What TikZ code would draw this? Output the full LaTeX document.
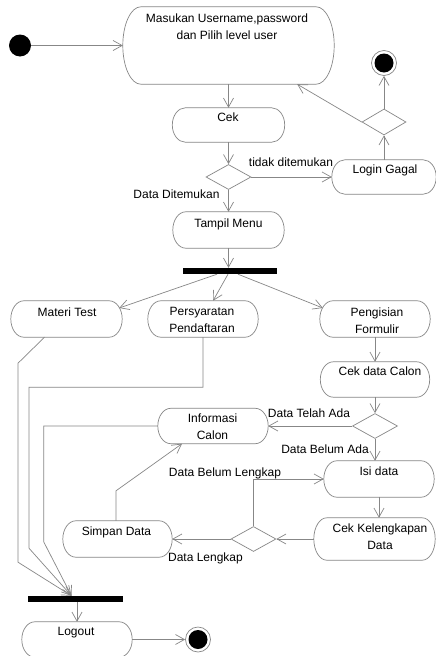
\documentclass[tikz,border=0pt]{standalone}
\usepackage{fontspec}
\setmainfont{Liberation Sans}
\usetikzlibrary{arrows.meta,shapes.geometric,calc}
\definecolor{lc}{RGB}{135,135,135}

\tikzset{
  edge/.style={draw=lc, line width=0.7pt},
  flow/.style={edge, -{Straight Barb[length=9pt,width=10pt]}},
  act/.style={rectangle, inner sep=0pt, draw=none},
  txt/.style={inner sep=0pt, anchor=north, align=center, font=\fontsize{12}{17}\selectfont},
  lbl/.style={inner sep=0pt, anchor=base, font=\fontsize{12}{14}\selectfont},
  decision/.style={diamond, draw=lc, line width=0.7pt, inner sep=0pt,
                   minimum width=45pt, minimum height=25pt},
  bar/.style={rectangle, fill=black, inner sep=0pt, minimum width=95pt, minimum height=6pt},
  startdot/.style={circle, fill=black, inner sep=0pt, minimum size=22pt},
  endring/.style={circle, draw=lc, line width=0.7pt, inner sep=0pt, minimum size=25pt},
  enddot/.style={circle, fill=black, inner sep=0pt, minimum size=19pt},
}

% activity outline: straight top and bottom, elliptic end caps
\newcommand\capsule[2][13]{%
  \draw[edge] let \p1=(#2.north east), \p2=(#2.south west), \n1={(\y1-\y2)/2} in
    ({\x2+#1pt},\y1) -- ({\x1-#1pt},\y1)
    arc[start angle=90, end angle=-90, x radius=#1pt, y radius=\n1]
    -- ({\x2+#1pt},\y2)
    arc[start angle=270, end angle=90, x radius=#1pt, y radius=\n1] -- cycle;}

\begin{document}
\begin{tikzpicture}[x=1pt, y=-1pt]
\fill[white] (0,0) rectangle (436,656);
\useasboundingbox (0,0) rectangle (436,656);

% activities
\node[act, minimum width=211pt, minimum height=77pt] (main)   at (228.5,45.5) {};
\node[act, minimum width=112pt, minimum height=34pt] (cek)    at (228.5,125) {};
\node[act, minimum width=104pt, minimum height=34pt] (login)  at (384,177) {};
\node[act, minimum width=111pt, minimum height=36pt] (tampil) at (228.5,230) {};
\node[act, minimum width=111pt, minimum height=36pt] (materi) at (66.5,319) {};
\node[act, minimum width=110pt, minimum height=36pt] (pers)   at (203,319) {};
\node[act, minimum width=110pt, minimum height=36pt] (peng)   at (375,319) {};
\node[act, minimum width=109pt, minimum height=35pt] (cekdc)  at (375,379.5) {};
\node[act, minimum width=110pt, minimum height=35pt] (info)   at (213,426) {};
\node[act, minimum width=110pt, minimum height=36pt] (isi)    at (379,479) {};
\node[act, minimum width=121pt, minimum height=42pt] (cekkel) at (374.5,539) {};
\node[act, minimum width=109pt, minimum height=36pt] (simpan) at (117.5,539) {};
\node[act, minimum width=110pt, minimum height=35pt] (logout) at (77,639.5) {};

\capsule[18]{main}
\foreach \b in {cek,login,tampil,materi,pers,peng,cekdc,info,isi,cekkel,simpan,logout}
  {\capsule{\b}}

% activity texts
\node[txt] (main-t)   at (227,13.5)   {Masukan Username,password\\dan Pilih level user};
\node[txt] (cek-t)    at (228,112.5)  {Cek};
\node[txt] (login-t)  at (385,164.5)  {Login Gagal};
\node[txt] (tampil-t) at (228.5,218.5){Tampil Menu};
\node[txt] (materi-t) at (67,307.5)   {Materi Test};
\node[txt] (pers-t)   at (202,307.5)  {Persyaratan\\Pendaftaran};
\node[txt] (peng-t)   at (377,307.5)  {Pengisian\\Formulir};
\node[txt] (cekdc-t)  at (380,366.5)  {Cek data Calon};
\node[txt] (info-t)   at (212.5,413.5){Informasi\\Calon};
\node[txt] (isi-t)    at (379,466.5)  {Isi data};
\node[txt] (cekkel-t) at (380,523.5)  {Cek Kelengkapan\\Data};
\node[txt] (simpan-t) at (116.5,526.5){Simpan Data};
\node[txt] (logout-t) at (76,627.5)   {Logout};

% decisions, bars, start and end points
\node[decision] (d1) at (228.5,177) {};
\node[decision, minimum width=44pt, minimum height=26pt] (d2) at (384,122) {};
\node[decision] (d3) at (375,426) {};
\node[decision] (d4) at (253.5,539) {};
\node[bar, minimum width=94pt] (bar1) at (230,271) {};
\node[bar] (bar2) at (75.5,599) {};
\node[startdot] (start) at (20,45.5) {};
\node[endring] (fin1) at (384,63) {};
\node[enddot] (fin1-dot) at (fin1) {};
\node[endring] (fin2) at (198,639.5) {};
\node[enddot] (fin2-dot) at (fin2) {};
\coordinate (join) at ([xshift=-4pt]bar2.north);

% guard labels
\node[lbl] (l-tidak)  at (291,166.3)   {tidak ditemukan};
\node[lbl] (l-ada)    at (176.5,198.3) {Data Ditemukan};
\node[lbl] (l-telah)  at (309,417.3)   {Data Telah Ada};
\node[lbl] (l-belum)  at (325,453.3)   {Data Belum Ada};
\node[lbl] (l-blk)    at (225,476.3)   {Data Belum Lengkap};
\node[lbl] (l-lengk)  at (205.5,561.3) {Data Lengkap};

% login flow
\draw[flow] (start) -- (main);
\draw[flow] (main) -- (cek);
\draw[flow] (cek) -- (d1);
\draw[flow] (d1) -- (login);
\draw[flow] (d1) -- (tampil);
\draw[flow] (login) -- (d2);
\draw[flow] (d2) -- (fin1);
\draw[flow] (d2.west) -- ([xshift=-37pt]main.south east);

% menu fork
\draw[flow] (tampil.south) -- (tampil.south |- bar1.north);
\draw[flow] ([xshift=-13pt]bar1.south) -- ([shift={(-3pt,11pt)}]materi.east);
\draw[flow] ([xshift=-2pt]bar1.south) -- ([xshift=10pt]pers.north);
\draw[flow] ([xshift=8pt]bar1.south) -- ([shift={(3pt,11pt)}]peng.west);

% registration form
\draw[flow] (peng) -- (cekdc);
\draw[flow] (cekdc) -- (d3);
\draw[flow] (d3) -- (info);
\draw[flow] (d3.south) -- (d3.south |- isi.north);
\draw[flow] (isi.south) -- (isi.south |- cekkel.north);
\draw[flow] (cekkel) -- (d4);
\draw[flow] (d4) -- (simpan);
\draw[flow] (d4.north) |- (isi.west);
\draw[flow] ([xshift=-1.5pt]simpan.north) -- ++(0,-30) -- ([xshift=-31pt]info.south);

% paths to the logout join
\draw[flow] ([xshift=-22pt]materi.south) -- ++(-26.5,26) -- ++(0,199) -- (join);
\draw[flow] (pers.south) -- ++(0,50) -- ++(-174,0) -- ++(0,161) -- (join);
\draw[flow] (info.west) -- ++(-114,0) -- ++(0,116) -- (join);
\draw[flow] (logout.north |- bar2.south) -- (logout.north);
\draw[flow] (logout) -- (fin2);
\end{tikzpicture}
\end{document}
